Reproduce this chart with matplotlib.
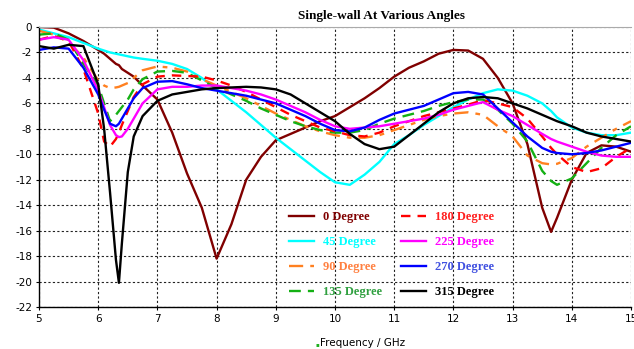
import matplotlib
matplotlib.use("Agg")
import matplotlib.pyplot as plt

plt.rcParams['axes.unicode_minus'] = False

# frequency points (GHz)
freq = [5.0, 5.25, 5.5, 5.75, 6.0, 6.1, 6.2, 6.3, 6.35, 6.4, 6.5, 6.6, 6.75,
        7.0, 7.25, 7.5, 7.75, 8.0, 8.25, 8.5, 8.75, 9.0, 9.25, 9.5, 9.75,
        10.0, 10.25, 10.5, 10.75, 11.0, 11.25, 11.5, 11.75, 12.0, 12.25,
        12.5, 12.75, 13.0, 13.25, 13.5, 13.65, 13.75, 14.0, 14.25, 14.5,
        14.75, 15.0]

deg0 = [0.0, -0.05, -0.5, -1.1, -1.8, -2.1, -2.5, -2.9, -3.0, -3.3, -3.6, -3.9, -4.6,
        -5.7, -8.3, -11.5, -14.2, -18.2, -15.5, -12.0, -10.2, -8.9, -8.4, -7.9, -7.4,
        -7.0, -6.3, -5.6, -4.8, -3.9, -3.2, -2.7, -2.1, -1.8, -1.85,
        -2.5, -4.0, -6.0, -9.2, -14.2, -16.1, -15.0, -12.0, -9.9, -9.3,
        -9.4, -9.8]
deg45 = [-0.2, -0.5, -0.8, -1.25, -1.7, -1.85, -2.0, -2.1, -2.15, -2.2, -2.3, -2.4, -2.5,
         -2.65, -2.9, -3.3, -4.0, -4.9, -5.8, -6.7, -7.7, -8.7, -9.6, -10.5, -11.4,
         -12.2, -12.4, -11.6, -10.6, -9.2, -8.5, -7.7, -7.0, -6.3, -5.7,
         -5.2, -4.9, -5.0, -5.4, -6.0, -6.6, -7.1, -7.9, -8.3, -8.5,
         -8.5, -8.3]
deg90 = [-0.3, -0.6, -1.2, -2.4, -4.2, -4.6, -4.8, -4.75, -4.7, -4.6, -4.4, -4.0, -3.4,
         -3.1, -3.2, -3.5, -4.1, -4.6, -5.1, -5.6, -6.2, -6.8, -7.3, -7.8, -8.2,
         -8.5, -8.7, -8.7, -8.5, -8.1, -7.7, -7.3, -7.0, -6.8, -6.7,
         -6.9, -7.8, -8.6, -10.1, -10.7, -10.8, -10.75, -10.3, -9.4, -8.7,
         -8.0, -7.4]
deg135 = [-0.6, -0.5, -1.0, -2.9, -4.6, -6.0, -7.4, -6.9, -6.6, -6.3, -5.7, -4.9, -4.1,
          -3.5, -3.45, -3.6, -4.2, -4.8, -5.3, -5.8, -6.4, -6.9, -7.4, -7.8, -8.1,
          -8.3, -8.3, -8.1, -7.6, -7.2, -6.9, -6.6, -6.2, -5.9, -5.7,
          -5.7, -6.5, -7.6, -9.0, -11.3, -12.1, -12.4, -11.9, -10.7, -9.5,
          -8.5, -7.8]
deg180 = [-1.0, -0.7, -1.1, -3.3, -6.8, -9.0, -9.4, -8.8, -8.3, -7.7, -6.6, -5.5, -4.5,
          -3.9, -3.8, -3.85, -3.9, -4.2, -4.6, -5.1, -5.7, -6.3, -6.9, -7.4, -7.9,
          -8.2, -8.5, -8.6, -8.3, -7.8, -7.4, -7.0, -6.7, -6.4, -6.1,
          -5.75, -6.0, -6.3, -7.2, -8.6, -9.5, -10.0, -11.0, -11.4, -11.1,
          -10.2, -9.5]
deg225 = [-1.0, -0.8, -1.0, -2.6, -5.0, -6.3, -7.7, -8.5, -8.65, -8.6, -8.0, -7.2, -6.0,
          -4.9, -4.7, -4.7, -4.6, -4.6, -4.8, -5.0, -5.3, -5.7, -6.2, -6.7, -7.3,
          -7.8, -8.0, -7.9, -7.8, -7.6, -7.4, -7.2, -6.9, -6.5, -6.2,
          -5.9, -6.5, -7.0, -7.7, -8.4, -8.8, -9.0, -9.4, -9.8, -10.1,
          -10.2, -10.2]
deg270 = [-1.8, -1.6, -1.7, -3.2, -5.3, -6.5, -7.6, -7.8, -7.6, -7.2, -6.4, -5.6, -4.8,
          -4.3, -4.25, -4.5, -4.8, -5.0, -5.2, -5.4, -5.7, -6.0, -6.5, -7.0, -7.6,
          -8.1, -8.2, -7.9, -7.3, -6.8, -6.5, -6.2, -5.7, -5.2, -5.1,
          -5.3, -6.4, -7.5, -8.6, -9.5, -9.8, -9.9, -10.0, -9.9, -9.7,
          -9.4, -9.1]
deg315 = [-1.5, -1.7, -1.4, -1.5, -4.5, -8.0, -13.0, -18.3, -20.1, -17.0, -11.4, -8.6, -7.0,
          -5.8, -5.3, -5.1, -4.9, -4.8, -4.75, -4.7, -4.75, -4.9, -5.3, -6.0, -6.7,
          -7.4, -8.4, -9.2, -9.6, -9.4, -8.5, -7.6, -6.7, -6.0, -5.6,
          -5.5, -5.6, -6.0, -6.4, -6.9, -7.2, -7.4, -7.8, -8.3, -8.6,
          -8.8, -9.0]

labels = ['0 Degree', '45 Degree', '90 Degree', '135 Degree',
          '180 Degree', '225 Degree', '270 Degree', '315 Degree']
series = [deg0, deg45, deg90, deg135, deg180, deg225, deg270, deg315]
colors = ['#800000', '#00FFFF', '#FF8020', '#14B014',
          '#FF0000', '#FF00FF', '#0000FF', '#000000']
text_colors = ['#800000', '#00FFFF', '#FF8040', '#30A040',
               '#FF2020', '#FF00FF', '#4050E0', '#000000']
styles = ['-', '-', (0, (6, 3, 2, 3)), (0, (5, 3)),
          (0, (4, 3)), '-', '-', '-']

fig = plt.figure(figsize=(6.34, 3.49), dpi=100)
ax = fig.add_axes([39 / 634, 1 - 307 / 349, 592 / 634, 280 / 349])

for y, lab, c, ls in zip(series, labels, colors, styles):
    ax.plot(freq, y, color=c, linestyle=ls, linewidth=1.7, label=lab)

ax.set_xlim(5, 15)
ax.set_ylim(-22, 0)
ax.set_xticks(range(5, 16))
ax.set_yticks(range(-22, 1, 2))
ax.grid(True, color='#222222', linestyle=(0, (2, 2)), linewidth=0.8)
ax.tick_params(labelsize=7.5, length=2, width=0.8, pad=3)
for s in ['left', 'bottom']:
    ax.spines[s].set_linewidth(1.0)
ax.spines['top'].set_color('#aaaaaa')
ax.spines['top'].set_linewidth(0.8)
ax.spines['right'].set_visible(False)

leg = ax.legend(ncol=2, frameon=False, loc='upper left',
                bbox_to_anchor=(289 / 634, 1 - 211 / 349),
                bbox_transform=fig.transFigure, borderpad=0, borderaxespad=0,
                handlelength=2.0, handletextpad=0.7, columnspacing=1.55,
                labelspacing=1.05,
                prop={'family': 'Liberation Serif', 'weight': 'bold', 'size': 9})
for t, c in zip(leg.get_texts(), text_colors):
    t.set_color(c)

fig.text(381 / 634, 1 - 16 / 349, 'Single-wall At Various Angles',
         ha='center', va='center', family='Liberation Serif',
         weight='bold', fontsize=9.5)
fig.text(363 / 634, 1 - 343 / 349, 'Frequency / GHz', ha='center',
         va='center', fontsize=7.5)
fig.text(317 / 634, 1 - 345 / 349, '\u25aa', ha='center', va='center',
         fontsize=4, color='#20B020')

fig.savefig('out.png', dpi=100)
